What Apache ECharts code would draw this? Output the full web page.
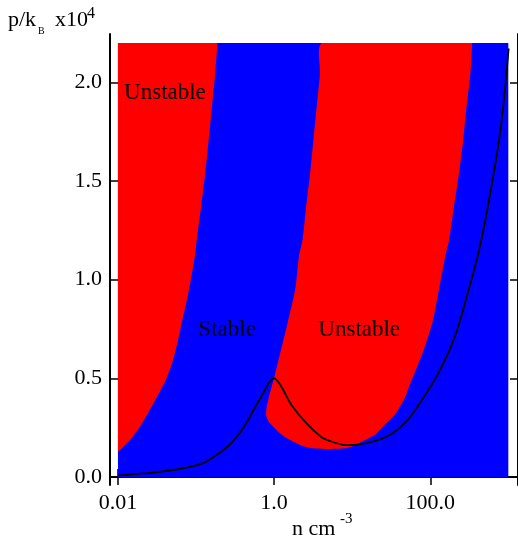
<!DOCTYPE html>
<html><head><meta charset="utf-8">
<script src="https://cdn.jsdelivr.net/npm/echarts@6/dist/echarts.min.js"></script>
<style>html,body{margin:0;padding:0;background:#fff}#c{width:518px;height:545px}</style>
</head><body><div id="c"></div>
<script>
// Tick positions: density n (cm^-3, log scale) and pressure p/kB (x 1e4)
const xTicks = [0.01, 1, 100];
const yTicks = [0, 0.5, 1.0, 1.5, 2.0];

// Extent of the computed stability map
const nRange = [0.01, 1000];
const pRange = [0, 2.2];

// Left unstable region: its boundary from the left edge up to the top edge
const leftEdgeN = [0.0100, 0.0149, 0.0208, 0.031, 0.042, 0.053, 0.066, 0.082, 0.097, 0.102, 0.116, 0.131, 0.145, 0.160, 0.176, 0.188];
const leftEdgeP = [0.127, 0.197, 0.278, 0.400, 0.501, 0.618, 0.785, 0.957, 1.124, 1.200, 1.368, 1.539, 1.706, 1.875, 2.046, 2.2];

// Central unstable region: outline from the top edge, down and round the bottom, back up to the top edge
const midEdgeN = [4.15, 3.87, 3.51, 3.18, 2.89, 2.57, 2.31, 2.09, 1.87, 1.50, 1.18, 1.02, 0.871, 0.798, 0.789, 0.853, 1.02, 1.26, 1.77, 2.50, 3.35, 4.94, 7.66, 10.0, 13.1, 19.4, 25.9, 34.8, 42.2, 48.9, 52.4, 78.0, 107, 130, 157, 174, 201, 233, 264, 291, 327, 344];
const midEdgeP = [2.2, 2.044, 1.875, 1.706, 1.538, 1.369, 1.200, 1.124, 0.955, 0.786, 0.618, 0.516, 0.415, 0.348, 0.314, 0.280, 0.247, 0.213, 0.179, 0.153, 0.144, 0.142, 0.144, 0.154, 0.179, 0.213, 0.263, 0.314, 0.365, 0.415, 0.449, 0.618, 0.786, 0.955, 1.124, 1.200, 1.369, 1.538, 1.706, 1.875, 2.044, 2.2];

// Thermal equilibrium curve
const curveN = [0.0100, 0.0208, 0.0562, 0.120, 0.171, 0.250, 0.335, 0.449, 0.583, 0.738, 0.879, 1.00, 1.11, 1.29, 1.67, 2.52, 4.03, 5.71, 8.13, 14.6, 28.6, 48.4, 75.0, 123, 203, 297, 422, 582, 759, 877, 1010];
const curveP = [0.008, 0.018, 0.038, 0.069, 0.104, 0.152, 0.205, 0.279, 0.360, 0.430, 0.484, 0.500, 0.486, 0.446, 0.365, 0.278, 0.203, 0.177, 0.162, 0.170, 0.208, 0.278, 0.380, 0.516, 0.704, 0.922, 1.150, 1.430, 1.706, 1.909, 2.172];

// Region labels
const labelText = ['Unstable', 'Stable', 'Unstable'];
const labelN = [0.040, 0.25, 12.3];
const labelP = [1.946, 0.745, 0.745];

const SERIF = '"Liberation Serif", "DejaVu Serif", serif';
const zip = (a, b) => a.map((v, i) => [v, b[i]]);

const stableBox = [[nRange[0], pRange[0]], [nRange[1], pRange[0]], [nRange[1], pRange[1]], [nRange[0], pRange[1]]];
const leftPoly = [[nRange[0], pRange[1]]].concat(zip(leftEdgeN, leftEdgeP));
const midPoly = zip(midEdgeN, midEdgeP);
const curvePts = zip(curveN, curveP);

function boundsOf(px) {
  const xs = px.map(p => p[0]), ys = px.map(p => p[1]);
  return [[Math.min(...xs), Math.min(...ys)], [Math.max(...xs), Math.max(...ys)]];
}

function regionSeries(points, color, z, smooth) {
  return {
    type: 'custom',
    coordinateSystem: 'cartesian2d',
    silent: true,
    z: z,
    encode: { x: 0, y: 1 },
    data: [points[0]],
    renderItem: function (params, api) {
      const px = points.map(p => api.coord(p));
      const shape = { points: px };
      if (smooth) {
        shape.smooth = smooth;
        // keep the rounded outline inside the sampled map
        shape.smoothConstraint = boundsOf(px);
      }
      return { type: 'polygon', shape: shape, style: { fill: color, stroke: null } };
    }
  };
}

const xFmt = v => (v < 0.1 ? '0.01' : Number(v).toFixed(1));

const chart = echarts.init(document.getElementById('c'), null, { renderer: 'canvas' });
chart.setOption({
  animation: false,
  backgroundColor: '#ffffff',
  grid: { left: 110, top: 34, width: 411.5, height: 451, containLabel: false },
  xAxis: [
    {
      type: 'log', logBase: 10, min: 0.007911, max: 1330, position: 'bottom',
      axisLine: { show: true, lineStyle: { color: '#000', width: 2 } },
      axisTick: { show: true, inside: true, length: 8, customValues: xTicks, lineStyle: { color: '#000', width: 1.5 } },
      minorTick: { show: false },
      axisLabel: { show: true, customValues: xTicks, formatter: xFmt, margin: 7, color: '#000', fontFamily: SERIF, fontSize: 22 },
      splitLine: { show: false }
    },
    {
      type: 'log', logBase: 10, min: 0.007911, max: 1330, position: 'top',
      axisLine: { show: true, lineStyle: { color: '#000', width: 2 } },
      axisTick: { show: true, inside: true, length: 8, customValues: xTicks, lineStyle: { color: '#000', width: 1.5 } },
      axisLabel: { show: false },
      splitLine: { show: false }
    }
  ],
  yAxis: [
    {
      type: 'value', min: -0.0405, max: 2.2453, position: 'left',
      axisLine: { show: true, lineStyle: { color: '#000', width: 2 } },
      axisTick: { show: true, inside: true, length: 8, customValues: yTicks, lineStyle: { color: '#000', width: 1.5 } },
      axisLabel: { show: true, customValues: yTicks, formatter: v => Number(v).toFixed(1), margin: 8, color: '#000', fontFamily: SERIF, fontSize: 22 },
      splitLine: { show: false }
    },
    {
      type: 'value', min: -0.0405, max: 2.2453, position: 'right',
      axisLine: { show: true, lineStyle: { color: '#000', width: 2 } },
      axisTick: { show: true, inside: true, length: 8, customValues: yTicks, lineStyle: { color: '#000', width: 1.5 } },
      axisLabel: { show: false },
      splitLine: { show: false }
    }
  ],
  series: [
    regionSeries(stableBox, '#0000ff', 1, 0),
    regionSeries(leftPoly, '#ff0000', 2, 0.25),
    regionSeries(midPoly, '#ff0000', 2, 0.25),
    {
      // equilibrium curve as a smoothed polyline through the sampled points
      type: 'custom',
      coordinateSystem: 'cartesian2d',
      silent: true,
      z: 5,
      encode: { x: 0, y: 1 },
      data: [curvePts[0]],
      renderItem: function (params, api) {
        const px = curvePts.map(p => api.coord(p));
        return {
          type: 'polyline',
          shape: { points: px, smooth: 0.35, smoothConstraint: boundsOf(px) },
          style: { stroke: '#000', lineWidth: 1.8, fill: null, lineJoin: 'round' }
        };
      }
    },
    {
      type: 'custom',
      coordinateSystem: 'cartesian2d',
      silent: true,
      z: 6,
      encode: { x: 0, y: 1 },
      data: labelText.map((t, i) => [labelN[i], labelP[i]]),
      renderItem: function (params, api) {
        const pt = api.coord([api.value(0), api.value(1)]);
        return {
          type: 'text', x: pt[0], y: pt[1],
          style: { text: labelText[params.dataIndex], fill: '#000', font: '23px ' + SERIF, align: 'center', verticalAlign: 'middle' }
        };
      }
    }
  ],
  graphic: [
    { type: 'text', left: 8, top: 9, style: { text: 'p/k', fill: '#000', font: '22px ' + SERIF } },
    { type: 'text', left: 38, top: 26, style: { text: 'B', fill: '#000', font: '10px ' + SERIF } },
    { type: 'text', left: 55, top: 9, style: { text: 'x10', fill: '#000', font: '22px ' + SERIF } },
    { type: 'text', left: 87, top: 6, style: { text: '4', fill: '#000', font: '16px ' + SERIF } },
    { type: 'text', left: 292, top: 518, style: { text: 'n cm', fill: '#000', font: '22px ' + SERIF } },
    { type: 'text', left: 340, top: 512, style: { text: '-3', fill: '#000', font: '15px ' + SERIF } }
  ]
});
</script>
</body></html>
